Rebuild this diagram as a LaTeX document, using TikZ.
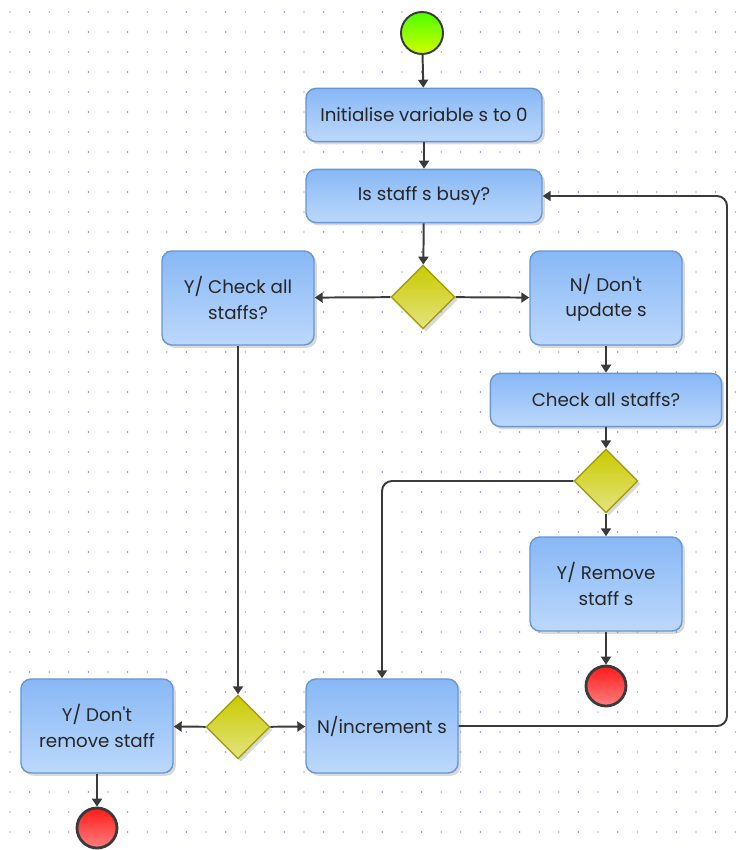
\documentclass[tikz,border=0pt]{standalone}
\usepackage{fontspec}
\setmainfont{Poppins}
\usetikzlibrary{shapes.geometric,arrows.meta,shadows}

\definecolor{boxtop}{RGB}{136,184,246}
\definecolor{boxbot}{RGB}{188,216,251}
\definecolor{boxline}{RGB}{104,150,214}
\definecolor{diatop}{RGB}{202,202,0}
\definecolor{diabot}{RGB}{228,228,128}
\definecolor{dialine}{RGB}{160,160,20}
\definecolor{flowgray}{RGB}{58,58,58}
\definecolor{griddot}{RGB}{90,90,160}

\begin{document}
\begin{tikzpicture}[
    x=0.025cm, y=-0.025cm,
    font=\fontsize{13}{18}\selectfont,
    action/.style={rectangle, rounded corners=0.25cm, draw=boxline, line width=1pt,
        top color=boxtop, bottom color=boxbot, text=black!85, align=center, inner sep=0pt,
        drop shadow={opacity=0.3, shadow xshift=0.07cm, shadow yshift=-0.07cm}},
    wide/.style={action, minimum width=5.9cm, minimum height=1.33cm},
    tall/.style={action, minimum width=3.8cm, minimum height=2.35cm},
    decision/.style={diamond, aspect=1, draw=dialine, line width=1pt, top color=diatop,
        bottom color=diabot, minimum size=1.6cm, inner sep=0pt,
        drop shadow={opacity=0.3, shadow xshift=0.07cm, shadow yshift=-0.07cm}},
    startpt/.style={circle, draw=flowgray, line width=1.4pt, top color=green!60!lime,
        bottom color=lime!70!yellow, minimum size=1.05cm},
    endpt/.style={circle, draw=flowgray, line width=2pt, top color=red!90,
        bottom color=red!50, minimum size=1cm},
    flow/.style={-{Triangle[length=0.2cm,width=0.25cm]}, line width=1.4pt, draw=flowgray,
        rounded corners=0.25cm}
]
    \useasboundingbox (0,0) rectangle (741,850);

    % Dot grid
    \foreach \gx in {0,...,37}
        \foreach \gy in {0,...,41}
            \fill[griddot] (10+\gx*19.6, 12+\gy*20) circle (0.017cm);

    % Main column
    \node[startpt] (start) at (422,33) {};
    \node[wide] (init) at (424,115) {Initialise variable s to 0};
    \node[wide] (busy) at (424,196) {Is staff s busy?};
    \node[decision] (d1) at (423,297) {};

    % Branch: staff busy
    \node[tall] (chkall) at (238,298) {Y/ Check all\\staffs?};
    \node[decision] (d3) at (238,727) {};
    \node[tall] (noremove) at (97,726) {Y/ Don\textquotesingle t\\remove staff};
    \node[endpt] (end2) at (97,828) {};
    \node[tall] (incr) at (382,726) {N/increment s};

    % Branch: staff free
    \node[tall] (keep) at (606,298) {N/ Don\textquotesingle t\\update s};
    \node[action, minimum width=5.78cm, minimum height=1.33cm] (chkfree) at (606,400) {Check all staffs?};
    \node[decision] (d2) at (606,481) {};
    \node[tall] (remove) at (606,584) {Y/ Remove\\staff s};
    \node[endpt] (end1) at (606,686) {};
    \coordinate (loop) at (727,196);

    \draw[flow] (start) -- (init);
    \draw[flow] (init) -- (busy);
    \draw[flow] (busy) -- (d1);
    \draw[flow] (d1) -- (chkall);
    \draw[flow] (d1) -- (keep);
    \draw[flow] (keep) -- (chkfree);
    \draw[flow] (chkfree) -- (d2);
    \draw[flow] (d2) -- (remove);
    \draw[flow] (remove) -- (end1);
    \draw[flow] (d2.west) -| (incr.north);
    \draw[flow] (chkall) -- (d3);
    \draw[flow] (d3) -- (noremove);
    \draw[flow] (d3) -- (incr);
    \draw[flow] (noremove) -- (end2);
    \draw[flow] (incr.east) -| (loop) -- (busy.east);
\end{tikzpicture}
\end{document}
